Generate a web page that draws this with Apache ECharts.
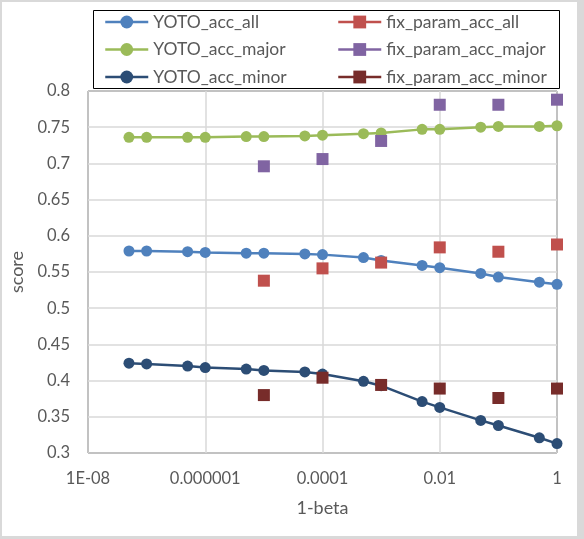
<!DOCTYPE html>
<html>
<head>
<meta charset="utf-8">
<script src="https://cdn.jsdelivr.net/npm/echarts@6/dist/echarts.min.js"></script>
<style>
  html, body { margin: 0; padding: 0; background: #d9d9d9; }
  #frame { position: absolute; left: 2px; top: 2px; width: 575px; height: 534px; background: #fff; }
  #main { position: absolute; left: 0; top: 0; width: 584px; height: 539px; }
</style>
</head>
<body>
<div id="frame"></div>
<div id="main"></div>
<script>
// 1-beta values
var yotoX = [5e-8, 1e-7, 5e-7, 1e-6, 5e-6, 1e-5, 5e-5, 1e-4, 5e-4, 1e-3, 5e-3, 1e-2, 5e-2, 0.1, 0.5, 1];
var fixX = [1e-5, 1e-4, 1e-3, 1e-2, 0.1, 1];

var yotoAll   = [0.579, 0.579, 0.578, 0.577, 0.576, 0.576, 0.575, 0.574, 0.570, 0.566, 0.559, 0.556, 0.548, 0.543, 0.536, 0.533];
var yotoMajor = [0.736, 0.736, 0.736, 0.736, 0.737, 0.737, 0.738, 0.739, 0.741, 0.742, 0.747, 0.747, 0.750, 0.751, 0.751, 0.752];
var yotoMinor = [0.424, 0.423, 0.420, 0.418, 0.416, 0.414, 0.412, 0.409, 0.399, 0.393, 0.371, 0.363, 0.345, 0.338, 0.321, 0.313];

var fixAll   = [0.538, 0.555, 0.563, 0.584, 0.578, 0.588];
var fixMajor = [0.696, 0.706, 0.731, 0.781, 0.781, 0.788];
var fixMinor = [0.380, 0.404, 0.394, 0.389, 0.376, 0.389];

var xTickLabels = ['1E-08', '0.000001', '0.0001', '0.01', '1'];

var colors = {
  YOTO_acc_all: '#4f81bd',
  fix_param_acc_all: '#c0504d',
  YOTO_acc_major: '#9bbb59',
  fix_param_acc_major: '#8064a2',
  YOTO_acc_minor: '#2c4d75',
  fix_param_acc_minor: '#772c2a'
};

function pairs(xs, ys) {
  return xs.map(function (x, i) { return [x, ys[i]]; });
}

function yoto(name, ys) {
  return {
    name: name, type: 'line', data: pairs(yotoX, ys),
    symbol: 'circle', symbolSize: 11,
    lineStyle: { width: 2.5, color: colors[name] },
    itemStyle: { color: colors[name] },
    animation: false
  };
}
function fix(name, ys) {
  return {
    name: name, type: 'line', data: pairs(fixX, ys),
    symbol: 'rect', symbolSize: 12,
    lineStyle: { width: 2.5, color: colors[name], opacity: 0 },
    itemStyle: { color: colors[name] },
    animation: false
  };
}
function legendItem(name) {
  return { name: name, lineStyle: { color: colors[name], width: 2.5, opacity: 1 } };
}

var font = 'Lato, "Open Sans", sans-serif';
var legendBase = {
  orient: 'vertical', top: 13, padding: 0, itemWidth: 43, itemHeight: 16, itemGap: 9.5,
  textStyle: { color: '#595959', fontSize: 17.5, fontFamily: font },
  selectedMode: false
};

var myChart = echarts.init(document.getElementById('main'));
var option = {
  textStyle: { fontFamily: font },
  legend: [
    Object.assign({}, legendBase, { left: 104, data: ['YOTO_acc_all', 'YOTO_acc_major', 'YOTO_acc_minor'].map(legendItem) }),
    Object.assign({}, legendBase, { left: 337, data: ['fix_param_acc_all', 'fix_param_acc_major', 'fix_param_acc_minor'].map(legendItem) })
  ],
  graphic: [{
    type: 'rect', left: 91, top: 8, silent: true,
    shape: { width: 466, height: 78 },
    style: { fill: 'none', stroke: '#000', lineWidth: 1 }
  }],
  grid: {
    left: 88, right: 27, top: 91, bottom: 86,
    show: true, borderColor: '#000', borderWidth: 1
  },
  xAxis: {
    type: 'log', logBase: 10, min: 1e-8, max: 1, interval: 2,
    name: '1-beta', nameLocation: 'middle', nameGap: 46,
    nameTextStyle: { color: '#595959', fontSize: 18, fontFamily: font },
    axisLine: { show: false }, axisTick: { show: false },
    axisLabel: {
      color: '#595959', fontSize: 16.5, fontFamily: font, margin: 17,
      formatter: function (v) {
        var e = Math.round(Math.log10(v));
        return xTickLabels[(e + 8) / 2] || '';
      }
    },
    splitLine: { show: true, lineStyle: { color: '#d9d9d9', width: 1.5 } }
  },
  yAxis: {
    type: 'value', min: 0.3, max: 0.8, interval: 0.05,
    name: 'score', nameLocation: 'middle', nameGap: 58,
    nameTextStyle: { color: '#595959', fontSize: 18, fontFamily: font },
    axisLine: { show: false }, axisTick: { show: false },
    axisLabel: { color: '#595959', fontSize: 16.5, fontFamily: font, margin: 18 },
    splitLine: { show: true, lineStyle: { color: '#d9d9d9', width: 1.5 } }
  },
  series: [
    yoto('YOTO_acc_all', yotoAll),
    yoto('YOTO_acc_major', yotoMajor),
    yoto('YOTO_acc_minor', yotoMinor),
    fix('fix_param_acc_all', fixAll),
    fix('fix_param_acc_major', fixMajor),
    fix('fix_param_acc_minor', fixMinor)
  ]
};
myChart.setOption(option);
</script>
</body>
</html>
